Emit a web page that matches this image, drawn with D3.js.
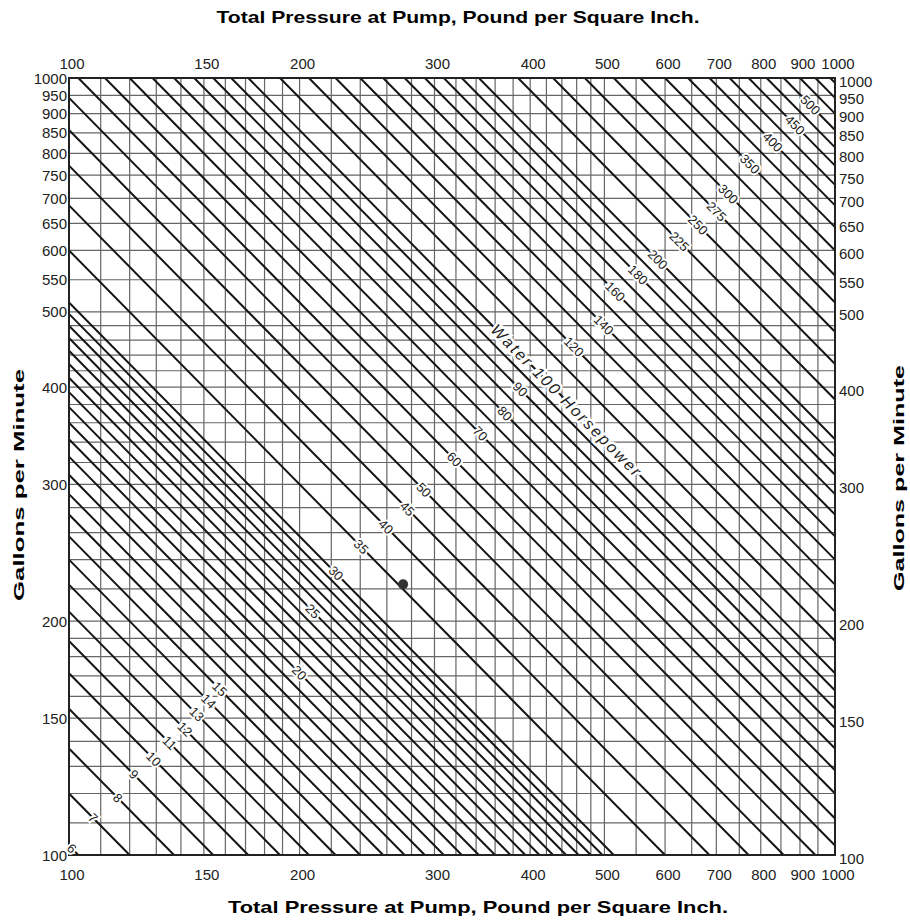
<!DOCTYPE html>
<html>
<head>
<meta charset="utf-8">
<script src="https://cdn.jsdelivr.net/npm/d3@7"></script>
<style>
  body { margin: 0; background: #fff; }
  svg text { font-family: "Liberation Sans", Arial, sans-serif; }
</style>
</head>
<body>
<svg width="910" height="920"></svg>
<script>
const width = 910;
const height = 920;
const plotLeft = 69;
const plotRight = 835;
const plotTop = 78;
const plotBottom = 855;

// water horsepower = psi * gpm / 1714
const hpFactor = 1714;

// axis tick labels (both axes run 100..1000, log)
const pressureTicks = [100, 150, 200, 300, 400, 500, 600, 700, 800, 900, 1000];
const gallonTicks = [100, 150, 200, 300, 400, 500, 550, 600, 650, 700, 750, 800, 850, 900, 950, 1000];

// ruled grid, same on both axes
const gridValues = [110, 120, 130, 140, 150, 160, 170, 180, 190, 200,
    220, 240, 260, 280, 300, 320, 340, 360, 380, 400, 420, 440, 460, 480, 500,
    550, 600, 650, 700, 750, 800, 850, 900, 950];

// horsepower lines drawn
const hpLines = [6, 7, 8, 9, 10, 11, 12, 13, 14, 15, 16, 17, 18, 19, 20,
    21, 22, 23, 24, 25, 26, 27, 28, 29, 30,
    35, 40, 45, 50, 55, 60, 65, 70, 75, 80, 85, 90, 95, 100,
    110, 120, 130, 140, 150, 160, 170, 180, 190, 200,
    225, 250, 275, 300, 325, 350, 375, 400, 425, 450, 475, 500, 525, 550, 575];

// labelled lines and the gallons/min where each label sits
const hpLabels = [6, 7, 8, 9, 10, 11, 12, 13, 14, 15, 20, 25, 30, 35, 40, 45, 50, 60, 70, 80, 90,
    120, 140, 160, 180, 200, 225, 250, 275, 300, 350, 400, 450, 500];
const hpLabelGpm = [102, 111.6, 118.4, 127, 132.9, 139.4, 145.2, 151.8, 157.7, 163.5, 171.6, 205.9,
    230.5, 249.3, 264.5, 279, 295, 323, 348.6, 370, 397.5,
    451, 481, 531, 558, 584, 616, 647, 673, 709, 775, 827, 870, 923];

const waterLabel = "Water 100 Horsepower";
const waterLabelHp = 100;
const waterLabelGpm = 384;

// worked example point
const examplePoint = [273, 223];

const svg = d3.select("svg");

const x = d3.scaleLog().domain([100, 1000]).range([plotLeft, plotRight]);
const y = d3.scaleLog().domain([100, 1000]).range([plotBottom, plotTop]);

const angle = Math.atan((y(100) - y(1000)) / (x(1000) - x(100))) * 180 / Math.PI;

svg.append("rect").attr("width", width).attr("height", height).attr("fill", "#fff");

// grid
svg.append("g")
    .selectAll("line")
    .data(gridValues)
    .enter()
    .append("line")
    .attr("x1", d => x(d))
    .attr("x2", d => x(d))
    .attr("y1", plotTop)
    .attr("y2", plotBottom)
    .attr("stroke", "#666")
    .attr("stroke-width", 1.2);

svg.append("g")
    .selectAll("line")
    .data(gridValues)
    .enter()
    .append("line")
    .attr("y1", d => y(d))
    .attr("y2", d => y(d))
    .attr("x1", plotLeft)
    .attr("x2", plotRight)
    .attr("stroke", "#666")
    .attr("stroke-width", 1.2);

// horsepower lines
const hpLine = d3.line().x(d => x(d[0])).y(d => y(d[1]));

svg.append("g")
    .selectAll("path")
    .data(hpLines)
    .enter()
    .append("path")
    .attr("d", h => {
        const k = hpFactor * h;
        const p0 = Math.max(100, k / 1000);
        const p1 = Math.min(1000, k / 100);
        return hpLine([[p0, k / p0], [p1, k / p1]]);
    })
    .attr("fill", "none")
    .attr("stroke", "#151515")
    .attr("stroke-width", 2);

// frame
svg.append("rect")
    .attr("x", plotLeft)
    .attr("y", plotTop)
    .attr("width", plotRight - plotLeft)
    .attr("height", plotBottom - plotTop)
    .attr("fill", "none")
    .attr("stroke", "#222")
    .attr("stroke-width", 2);

// line labels
svg.append("g")
    .selectAll("text")
    .data(hpLabels)
    .enter()
    .append("text")
    .attr("transform", (h, i) => {
        const q = hpLabelGpm[i];
        return `translate(${x(hpFactor * h / q)},${y(q)}) rotate(${angle})`;
    })
    .attr("text-anchor", "middle")
    .attr("dominant-baseline", "central")
    .attr("font-size", 13)
    .attr("fill", "#222")
    .attr("stroke", "#fff")
    .attr("stroke-width", 4)
    .attr("paint-order", "stroke")
    .text(h => h);

svg.append("text")
    .attr("transform", `translate(${x(hpFactor * waterLabelHp / waterLabelGpm)},${y(waterLabelGpm)}) rotate(${angle})`)
    .attr("text-anchor", "middle")
    .attr("dominant-baseline", "central")
    .attr("font-size", 16)
    .attr("font-style", "italic")
    .attr("letter-spacing", 2.2)
    .attr("fill", "#222")
    .attr("stroke", "#fff")
    .attr("stroke-width", 5)
    .attr("paint-order", "stroke")
    .text(waterLabel);

// example point
svg.append("circle")
    .attr("cx", x(examplePoint[0]))
    .attr("cy", y(examplePoint[1]))
    .attr("r", 5)
    .attr("fill", "#333");

// tick labels
const tickFont = 15;

svg.append("g")
    .selectAll("text")
    .data(pressureTicks)
    .enter()
    .append("text")
    .attr("x", d => x(d) + 3)
    .attr("y", plotTop - 9)
    .attr("text-anchor", "middle")
    .attr("font-size", tickFont)
    .attr("fill", "#222")
    .text(d => d);

svg.append("g")
    .selectAll("text")
    .data(pressureTicks)
    .enter()
    .append("text")
    .attr("x", d => x(d) + 3)
    .attr("y", plotBottom + 25)
    .attr("text-anchor", "middle")
    .attr("font-size", tickFont)
    .attr("fill", "#222")
    .text(d => d);

svg.append("g")
    .selectAll("text")
    .data(gallonTicks)
    .enter()
    .append("text")
    .attr("x", plotLeft - 2)
    .attr("y", d => y(d))
    .attr("text-anchor", "end")
    .attr("dominant-baseline", "central")
    .attr("font-size", tickFont)
    .attr("fill", "#222")
    .text(d => d);

svg.append("g")
    .selectAll("text")
    .data(gallonTicks)
    .enter()
    .append("text")
    .attr("x", plotRight + 4)
    .attr("y", d => y(d) + 3)
    .attr("dominant-baseline", "central")
    .attr("font-size", tickFont)
    .attr("fill", "#222")
    .text(d => d);

// titles
const titleFont = "DejaVu Sans";

svg.append("text")
    .attr("x", 458)
    .attr("y", 23)
    .attr("text-anchor", "middle")
    .attr("font-family", titleFont)
    .attr("font-weight", "bold")
    .attr("font-size", 17)
    .attr("textLength", 483)
    .attr("lengthAdjust", "spacingAndGlyphs")
    .text("Total Pressure at Pump, Pound per Square Inch.");

svg.append("text")
    .attr("x", 478)
    .attr("y", 913)
    .attr("text-anchor", "middle")
    .attr("font-family", titleFont)
    .attr("font-weight", "bold")
    .attr("font-size", 17)
    .attr("textLength", 500)
    .attr("lengthAdjust", "spacingAndGlyphs")
    .text("Total Pressure at Pump, Pound per Square Inch.");

svg.append("text")
    .attr("transform", "translate(24,485) rotate(-90)")
    .attr("text-anchor", "middle")
    .attr("font-family", titleFont)
    .attr("font-weight", "bold")
    .attr("font-size", 15)
    .attr("textLength", 232)
    .attr("lengthAdjust", "spacingAndGlyphs")
    .text("Gallons per Minute");

svg.append("text")
    .attr("transform", "translate(904,478) rotate(-90)")
    .attr("text-anchor", "middle")
    .attr("font-family", titleFont)
    .attr("font-weight", "bold")
    .attr("font-size", 15)
    .attr("textLength", 226)
    .attr("lengthAdjust", "spacingAndGlyphs")
    .text("Gallons per Minute");
</script>
</body>
</html>
